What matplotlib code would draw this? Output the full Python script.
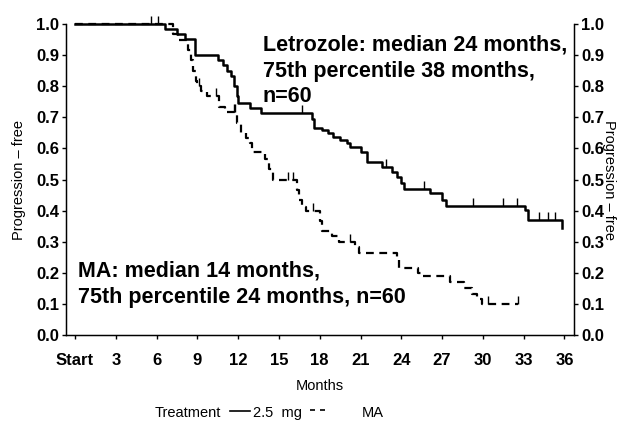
import matplotlib
matplotlib.use("Agg")
import matplotlib.pyplot as plt
from matplotlib.lines import Line2D
import numpy as np

plt.rcParams['font.family'] = ['Liberation Sans', 'DejaVu Sans']

# Letrozole 2.5 mg: event times (months) and survival after each step
let_t = [0, 6.6, 7.5, 8.1, 8.8, 10.5, 10.9, 11.2, 11.5, 11.7, 11.9, 12.0, 12.9, 13.7,
         17.4, 17.6, 18.2, 18.6, 19.0, 19.5, 20.0, 20.2, 21.0, 21.5, 22.6, 23.3, 23.7,
         24.0, 24.2, 26.1, 27.0, 27.3, 33.1, 33.3, 35.8]
let_s = [1.0, 0.984, 0.968, 0.952, 0.90, 0.883, 0.867, 0.85, 0.833, 0.80, 0.767, 0.745, 0.73, 0.713,
         0.695, 0.667, 0.659, 0.649, 0.637, 0.627, 0.617, 0.605, 0.589, 0.556, 0.540, 0.524, 0.508,
         0.488, 0.469, 0.456, 0.434, 0.415, 0.402, 0.37, 0.344]
let_cens = [5.6, 6.1, 16.7, 22.9, 25.7, 29.3, 31.5, 32.5, 34.1, 34.8, 35.3]

# MA
ma_t = [0, 7.2, 7.6, 8.3, 8.5, 8.7, 8.9, 9.0, 9.3, 9.7, 10.6, 11.0, 11.9, 12.2, 12.6, 12.9,
        13.0, 14.0, 14.3, 14.6, 16.3, 16.5, 16.7, 17.0, 18.0, 18.2, 18.9, 19.4, 20.6, 20.9,
        23.7, 23.8, 25.2, 25.5, 27.6, 28.6, 29.2, 29.6, 29.9, 32.6]
ma_s = [1.0, 0.967, 0.95, 0.917, 0.883, 0.85, 0.817, 0.80, 0.783, 0.767, 0.733, 0.717, 0.683, 0.65,
        0.633, 0.617, 0.59, 0.567, 0.533, 0.50, 0.467, 0.433, 0.41, 0.40, 0.367, 0.333, 0.317,
        0.30, 0.283, 0.263, 0.243, 0.217, 0.20, 0.19, 0.17, 0.15, 0.133, 0.117, 0.10, 0.10]
ma_cens = [9.1, 10.4, 11.7, 11.8, 15.7, 16.0, 17.5, 20.2, 30.4, 32.6]

xticks = list(range(0, 37, 3))
xticklabels = ['Start'] + [str(v) for v in xticks[1:]]
yticks = np.arange(0, 1.01, 0.1)


def surv_at(t, times, surv):
    i = np.searchsorted(times, t, side='right') - 1
    return np.array(surv)[i]


fig = plt.figure(figsize=(6.21, 4.21), dpi=100)
ax = fig.add_axes([66 / 621, 1 - 335 / 421, (574 - 66) / 621, (335 - 24) / 421])

ax.step(let_t, let_s, where='post', color='black', lw=1.8, clip_on=False)
ax.step(ma_t, ma_s, where='post', color='black', lw=1.6, ls=(0, (3.5, 2.5)), clip_on=False)
ax.plot(let_cens, surv_at(let_cens, let_t, let_s), ls='none', marker=2, ms=6,
        mew=1.0, color='black', clip_on=False)
ax.plot(ma_cens, surv_at(ma_cens, ma_t, ma_s), ls='none', marker=2, ms=6,
        mew=1.0, color='black', clip_on=False)

ax.set_xlim(-0.66, 36.7)
ax.set_ylim(0, 1.0)
ax.set_xticks(xticks)
ax.set_xticklabels(xticklabels, fontsize=12, fontweight='bold')
ax.set_yticks(yticks)
ax.set_yticklabels(['%.1f' % v for v in yticks], fontsize=12, fontweight='bold')
ax.tick_params(axis='both', direction='out', length=3, width=1, pad=2)
ax.tick_params(axis='x', pad=10)
ax.spines['top'].set_visible(False)
for s in ['left', 'right', 'bottom']:
    ax.spines[s].set_linewidth(1.0)

ax2 = ax.twinx()
ax2.set_ylim(0, 1.0)
ax2.set_yticks(yticks)
ax2.set_yticklabels(['%.1f' % v for v in yticks], fontsize=12, fontweight='bold')
ax2.tick_params(axis='y', direction='out', length=3, width=1, pad=2)
ax2.spines['top'].set_visible(False)
ax2.set_ylabel('Progression \u2013 free', fontsize=10.5, rotation=270)
ax2.yaxis.set_label_coords(1.082, 0.5)

ax.set_ylabel('Progression \u2013 free', fontsize=10.5)
ax.yaxis.set_label_coords(-0.078, 0.5)
ax.set_xlabel('Months', fontsize=10.5, labelpad=8)

ax.text(13.8, 0.965, 'Letrozole: median 24 months,\n75th percentile 38 months,\nn=60',
        fontsize=15.5, fontweight='bold', va='top', ha='left', linespacing=1.3)
ax.text(0.2, 0.238, 'MA: median 14 months,\n75th percentile 24 months, n=60',
        fontsize=15.5, fontweight='bold', va='top', ha='left', linespacing=1.3)

# legend row
ly = 1 - 413 / 421
fig.text(155 / 621, ly, 'Treatment', fontsize=10.5, va='center', ha='left')
fig.add_artist(Line2D([230 / 621, 250 / 621], [ly + 0.004, ly + 0.004], color='black', lw=1.2))
fig.text(253 / 621, ly, '2.5  mg', fontsize=10.5, va='center', ha='left')
fig.add_artist(Line2D([310 / 621, 330 / 621], [ly + 0.006, ly + 0.006], color='black', lw=1.2,
                      ls=(0, (3, 3))))
fig.text(362 / 621, ly, 'MA', fontsize=10.5, va='center', ha='left')

fig.savefig('out.png', dpi=100)
